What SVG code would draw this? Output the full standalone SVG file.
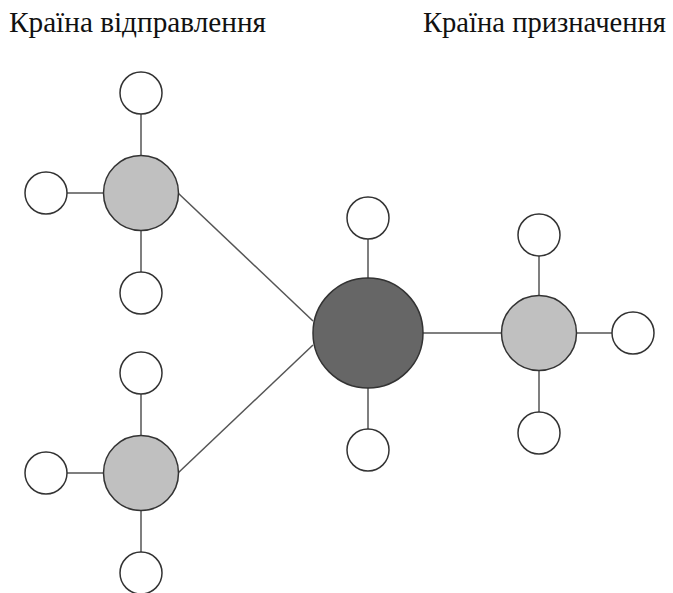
<svg xmlns="http://www.w3.org/2000/svg" width="673" height="593" viewBox="0 0 673 593">
<style>
.t{font-family:'Times New Roman','Tinos','Liberation Serif','DejaVu Serif',serif;font-size:29px;fill:#111}
.c{stroke:#555;stroke-width:1.5;fill:none}
.s{fill:#fff;stroke:#333;stroke-width:1.5}
.h{fill:#c0c0c0;stroke:#333;stroke-width:1.5}
.m{fill:#666;stroke:#333;stroke-width:1.5}
</style>
<rect width="673" height="593" fill="#fff"/>
<text class="t" x="9" y="32" textLength="257" lengthAdjust="spacingAndGlyphs">Країна відправлення</text>
<text class="t" x="423" y="32" textLength="243" lengthAdjust="spacingAndGlyphs">Країна призначення</text>
<g id="connectors">
<line class="c" x1="141" y1="93" x2="141" y2="293"/>
<line class="c" x1="46" y1="193" x2="141" y2="193"/>
<line class="c" x1="141" y1="373" x2="141" y2="573"/>
<line class="c" x1="46" y1="473" x2="141" y2="473"/>
<line class="c" x1="178" y1="193" x2="313" y2="321"/>
<line class="c" x1="178" y1="473" x2="313" y2="345"/>
<line class="c" x1="368" y1="218" x2="368" y2="450"/>
<line class="c" x1="368" y1="333" x2="539" y2="333"/>
<line class="c" x1="539" y1="235" x2="539" y2="433"/>
<line class="c" x1="539" y1="333" x2="633" y2="333"/>
</g>
<g id="tl-hub"><circle class="h" cx="141" cy="193" r="37.5"/></g>
<g id="tl-top"><circle class="s" cx="141" cy="93" r="21"/></g>
<g id="tl-left"><circle class="s" cx="46" cy="193" r="21"/></g>
<g id="tl-bottom"><circle class="s" cx="141" cy="293" r="21"/></g>
<g id="bl-hub"><circle class="h" cx="141" cy="473" r="37.5"/></g>
<g id="bl-top"><circle class="s" cx="141" cy="373" r="21"/></g>
<g id="bl-left"><circle class="s" cx="46" cy="473" r="21"/></g>
<g id="bl-bottom"><circle class="s" cx="141" cy="573" r="21"/></g>
<g id="center"><circle class="m" cx="368" cy="333" r="55"/></g>
<g id="c-top"><circle class="s" cx="368" cy="218" r="21"/></g>
<g id="c-bottom"><circle class="s" cx="368" cy="450" r="21"/></g>
<g id="r-hub"><circle class="h" cx="539" cy="333" r="37.5"/></g>
<g id="r-top"><circle class="s" cx="539" cy="235" r="21"/></g>
<g id="r-right"><circle class="s" cx="633" cy="333" r="21"/></g>
<g id="r-bottom"><circle class="s" cx="539" cy="433" r="21"/></g>
</svg>
